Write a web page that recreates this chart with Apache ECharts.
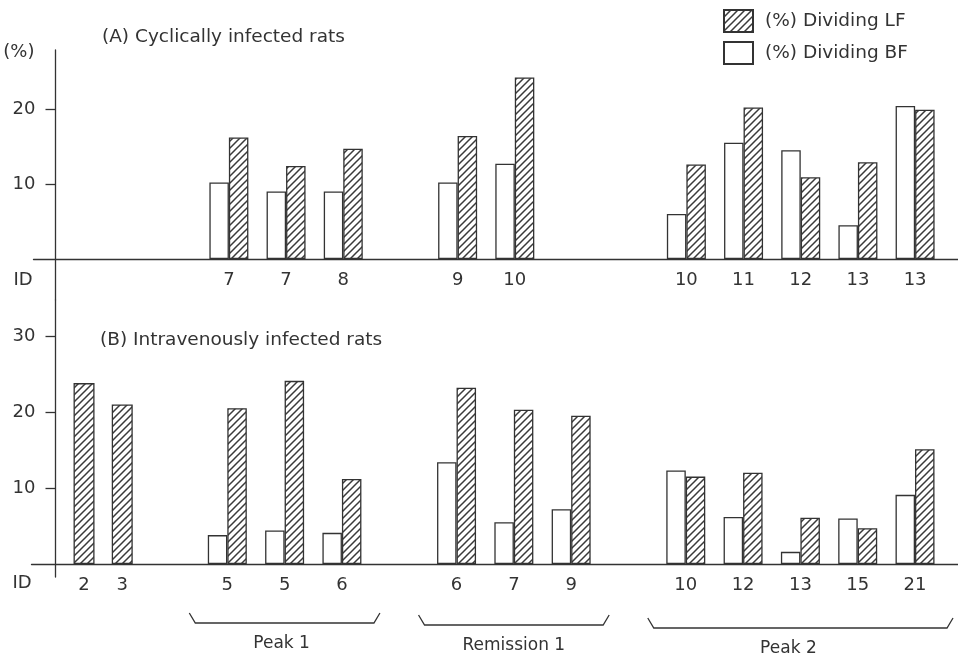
<!DOCTYPE html>
<html>
<head>
<meta charset="utf-8">
<script src="https://cdn.jsdelivr.net/npm/echarts@6/dist/echarts.min.js"></script>
<style>
html,body{margin:0;padding:0;background:#fff;}
#chart{width:958px;height:658px;}
</style>
</head>
<body>
<div id="chart"></div>
<script>
// ---------- data ----------
const idsA = ['7', '7', '8', '9', '10', '10', '11', '12', '13', '13'];
const bfA  = [10.2, 9.0, 9.0, 10.2, 12.7, 6.0, 15.5, 14.5, 4.5, 20.4];
const lfA  = [16.2, 12.4, 14.7, 16.4, 24.2, 12.6, 20.2, 10.9, 12.9, 19.9];

const idsB = ['5', '5', '6', '6', '7', '9', '10', '12', '13', '15', '21'];
const bfB  = [3.8, 4.4, 4.1, 13.4, 5.5, 7.2, 12.3, 6.2, 1.6, 6.0, 9.1];
const lfB  = [20.5, 24.1, 11.2, 23.2, 20.3, 19.5, 11.5, 12.0, 6.1, 4.7, 15.1];

const idsSoloB = ['2', '3'];
const lfSoloB  = [23.8, 21.0];

const yTicksA = [10, 20];
const yTicksB = [10, 20, 30];

const phaseNames = ['Peak 1', 'Remission 1', 'Peak 2'];
const phaseRanges = [[0, 2], [3, 5], [6, 10]]; // first/last index in idsB

const nameLF = '(%) Dividing LF';
const nameBF = '(%) Dividing BF';

// ---------- layout (slot positions on a fine category axis) ----------
const N_SLOTS = 97;
const slotsA = [20, 26, 32, 44, 50, 68, 74, 80, 86, 92];
const slotsB = [20, 26, 32, 44, 50, 56, 68, 74, 80, 86, 92];
const slotsSoloB = [5, 9];

function spread(slots, vals, fill) {
  const arr = new Array(N_SLOTS).fill(fill);
  slots.forEach((s, i) => { arr[s] = vals[i]; });
  return arr;
}
const catsA = spread(slotsA, idsA, '');
const catsB = spread(slotsB, idsB, '');
slotsSoloB.forEach((s, i) => { catsB[s] = idsSoloB[i]; });

// hatch pattern
function hatch() {
  const c = document.createElement('canvas');
  const s = 7;
  c.width = s; c.height = s;
  const g = c.getContext('2d');
  g.fillStyle = '#fff';
  g.fillRect(0, 0, s, s);
  g.strokeStyle = '#3a3a3a';
  g.lineWidth = 1.5;
  g.beginPath();
  g.moveTo(-1, s + 1); g.lineTo(s + 1, -1);
  g.moveTo(-1, 1); g.lineTo(1, -1);
  g.moveTo(s - 1, s + 1); g.lineTo(s + 1, s - 1);
  g.stroke();
  return c;
}
const hatchFill = { image: hatch(), repeat: 'repeat' };

const INK = '#333';
const FONT = 'DejaVu Sans';
const BW = 19.5;

// grid geometry: value axis range so that 0 lands on the baseline
const A_TOP = 50, A_BOTTOM = 300, A_ZERO = 259, A_PX = 7.5;
const B_TOP = 300, B_BOTTOM = 577, B_ZERO = 564, B_PX = 7.6;

const chart = echarts.init(document.getElementById('chart'), null, { renderer: 'canvas' });

const xCommon = {
  type: 'category',
  boundaryGap: true,
  axisTick: { show: false },
  axisLine: { onZero: false, lineStyle: { color: INK, width: 1.3 } },
  axisLabel: { interval: 0, margin: 12, color: INK, fontSize: 18, fontFamily: FONT },
  splitLine: { show: false }
};
const yCommon = {
  type: 'value',
  splitLine: { show: false },
  axisLine: { show: true, lineStyle: { color: INK, width: 1.3 } },
  axisTick: { show: true, inside: false, length: 10, lineStyle: { color: INK, width: 1.3 } },
  axisLabel: { margin: 20, color: INK, fontSize: 18, fontFamily: FONT }
};
const barStyle = (fill) => ({ color: fill, borderColor: INK, borderWidth: 1.3 });

const option = {
  backgroundColor: '#fff',
  animation: false,
  legend: {
    orient: 'vertical',
    left: 718, top: 4,
    itemWidth: 29, itemHeight: 22, itemGap: 8,
    selectedMode: false,
    icon: 'rect',
    data: [nameLF, nameBF],
    textStyle: { color: INK, fontSize: 18.5, fontFamily: FONT, padding: [0, 0, 0, 7] }
  },
  grid: [
    { left: 33.5, top: A_TOP, width: 930, height: A_BOTTOM - A_TOP },
    { left: 31.5, top: B_TOP, width: 930, height: B_BOTTOM - B_TOP }
  ],
  xAxis: [
    Object.assign({}, xCommon, { gridIndex: 0, data: catsA, offset: -(A_BOTTOM - A_ZERO) }),
    Object.assign({}, xCommon, { gridIndex: 1, data: catsB, offset: -(B_BOTTOM - B_ZERO) }),
    { type: 'category', gridIndex: 1, data: catsB, show: false }
  ],
  yAxis: [
    Object.assign({}, yCommon, {
      gridIndex: 0, min: -(A_BOTTOM - A_ZERO) / A_PX, max: (A_ZERO - A_TOP) / A_PX, offset: -22,
      name: '(%)', nameLocation: 'end', nameGap: -2,
      nameTextStyle: { color: INK, fontSize: 18, fontFamily: FONT, align: 'right', verticalAlign: 'middle', padding: [0, 21, 0, 0] },
      axisTick: Object.assign({}, yCommon.axisTick, { customValues: yTicksA }),
      axisLabel: Object.assign({}, yCommon.axisLabel, { customValues: yTicksA })
    }),
    Object.assign({}, yCommon, {
      gridIndex: 1, min: -(B_BOTTOM - B_ZERO) / B_PX, max: (B_ZERO - B_TOP) / B_PX, offset: -24,
      axisTick: Object.assign({}, yCommon.axisTick, { customValues: yTicksB }),
      axisLabel: Object.assign({}, yCommon.axisLabel, { customValues: yTicksB })
    })
  ],
  series: [
    { name: nameBF, type: 'bar', xAxisIndex: 0, yAxisIndex: 0, barWidth: BW, barGap: 0,
      data: spread(slotsA, bfA, null), itemStyle: barStyle('#fff') },
    { name: nameLF, type: 'bar', xAxisIndex: 0, yAxisIndex: 0, barWidth: BW, barGap: 0,
      data: spread(slotsA, lfA, null), itemStyle: barStyle(hatchFill) },
    { name: nameBF, type: 'bar', xAxisIndex: 1, yAxisIndex: 1, barWidth: BW, barGap: 0,
      data: spread(slotsB, bfB, null), itemStyle: barStyle('#fff') },
    { name: nameLF, type: 'bar', xAxisIndex: 1, yAxisIndex: 1, barWidth: BW, barGap: 0,
      data: spread(slotsB, lfB, null), itemStyle: barStyle(hatchFill) },
    { name: nameLF, type: 'bar', xAxisIndex: 2, yAxisIndex: 1, barWidth: 21,
      data: spread(slotsSoloB, lfSoloB, null), itemStyle: barStyle(hatchFill) }
  ],
  graphic: [
    { type: 'text', x: 102, y: 37, style: { text: '(A) Cyclically infected rats', font: '18.5px "' + FONT + '"', fill: INK, textAlign: 'left', textVerticalAlign: 'middle' } },
    { type: 'text', x: 100, y: 340, style: { text: '(B) Intravenously infected rats', font: '18.5px "' + FONT + '"', fill: INK, textAlign: 'left', textVerticalAlign: 'middle' } },
    { type: 'text', x: 23, y: 280, style: { text: 'ID', font: '18px "' + FONT + '"', fill: INK, textAlign: 'center', textVerticalAlign: 'middle' } },
    { type: 'text', x: 22, y: 583, style: { text: 'ID', font: '18px "' + FONT + '"', fill: INK, textAlign: 'center', textVerticalAlign: 'middle' } }
  ]
};
chart.setOption(option);

// brackets under phases, positioned from the category axis
const bracketY = [623, 625, 628];
const labelShift = [-3, 0, -12];
const extra = [];
phaseRanges.forEach((r, k) => {
  const xa = chart.convertToPixel({ xAxisIndex: 1 }, slotsB[r[0]]);
  const xb = chart.convertToPixel({ xAxisIndex: 1 }, slotsB[r[1]]);
  const x1 = xa - 38, x2 = xb + 38, yb = bracketY[k], yt = yb - 10;
  extra.push({ type: 'polyline', shape: { points: [[x1, yt], [x1 + 6, yb], [x2 - 6, yb], [x2, yt]] },
               style: { stroke: INK, lineWidth: 1.3, fill: null } });
  extra.push({ type: 'text', x: (x1 + x2) / 2 + labelShift[k], y: yb + 21,
               style: { text: phaseNames[k], font: '17px "' + FONT + '"', fill: INK, textAlign: 'center', textVerticalAlign: 'middle' } });
});
chart.setOption({ graphic: option.graphic.concat(extra) });
</script>
</body>
</html>
